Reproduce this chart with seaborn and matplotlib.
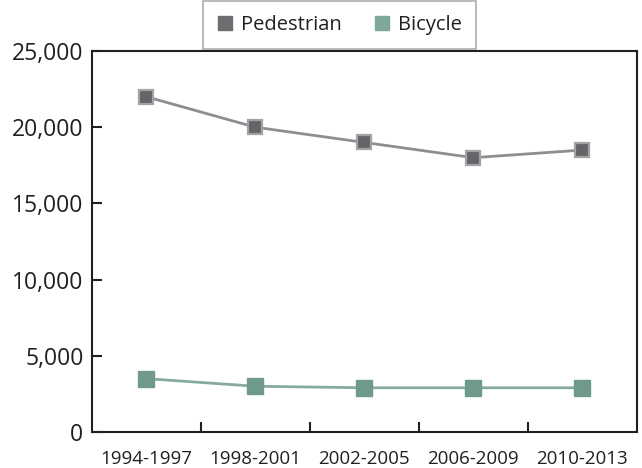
import matplotlib
matplotlib.use("Agg")
import matplotlib.pyplot as plt
import seaborn as sns
import pandas as pd
from matplotlib.lines import Line2D
from matplotlib.ticker import FuncFormatter, FixedLocator

periods = ["1994-1997", "1998-2001", "2002-2005", "2006-2009", "2010-2013"]
pedestrian = [22000, 20000, 19000, 18000, 18500]
bicycle = [3500, 3000, 2900, 2900, 2900]
y_ticks = [0, 5000, 10000, 15000, 20000, 25000]

sns.set_style("white")
plt.rcParams['font.family'] = ['Open Sans', 'DejaVu Sans']
text_color = "#231f20"

fig = plt.figure(figsize=(6.42, 4.68), dpi=100)
ax = fig.add_axes([0.143, 0.077, 0.849, 0.814])

df_p = pd.DataFrame({"period": periods, "value": pedestrian})
df_b = pd.DataFrame({"period": periods, "value": bicycle})

sns.lineplot(data=df_p, x="period", y="value", ax=ax, color="#8e8e90", lw=2.0,
             marker="s", markersize=10, markerfacecolor="#646569",
             markeredgecolor="#a3a3a5", markeredgewidth=1.6, sort=False)
sns.lineplot(data=df_b, x="period", y="value", ax=ax, color="#86ab9c", lw=2.0,
             marker="s", markersize=11, markerfacecolor="#6f9a8a",
             markeredgecolor="#6f9a8a", markeredgewidth=1.0, sort=False)

ax.set_xlim(-0.5, 4.5)
ax.set_ylim(0, 25000)
ax.set_xlabel("")
ax.set_ylabel("")
ax.set_yticks(y_ticks)
ax.yaxis.set_major_formatter(FuncFormatter(lambda v, p: f"{int(v):,}"))
ax.set_xticks(range(len(periods)))
ax.set_xticklabels(periods)
ax.xaxis.set_minor_locator(FixedLocator([0.5, 1.5, 2.5, 3.5]))
ax.tick_params(axis="x", which="major", length=0, labelsize=13.5, colors=text_color, pad=13)
ax.tick_params(axis="x", which="minor", length=7, width=1.5, direction="in", color=text_color, bottom=True)
ax.tick_params(axis="y", which="major", length=7, width=1.5, direction="in", labelsize=16.5,
               colors=text_color, left=True, pad=6)

for s in ax.spines.values():
    s.set_visible(True)
    s.set_color(text_color)
    s.set_linewidth(1.5)

handles = [
    Line2D([], [], linestyle="none", marker="s", markersize=10, markerfacecolor="#6d6e71",
           markeredgecolor="#6d6e71", label="Pedestrian"),
    Line2D([], [], linestyle="none", marker="s", markersize=10, markerfacecolor="#7ea898",
           markeredgecolor="#7ea898", label="Bicycle"),
]
leg = fig.legend(handles=handles, loc="upper left", bbox_to_anchor=(0.316, 0.998),
                 bbox_transform=fig.transFigure, ncol=2, frameon=True, fancybox=False,
                 fontsize=14.5, handlelength=0.8, handletextpad=0.4, columnspacing=1.6,
                 borderpad=0.7, borderaxespad=0)
leg.get_frame().set_edgecolor("#9a9a9a")
leg.get_frame().set_linewidth(1.2)
for t in leg.get_texts():
    t.set_color(text_color)

fig.savefig("out.png", dpi=100)
